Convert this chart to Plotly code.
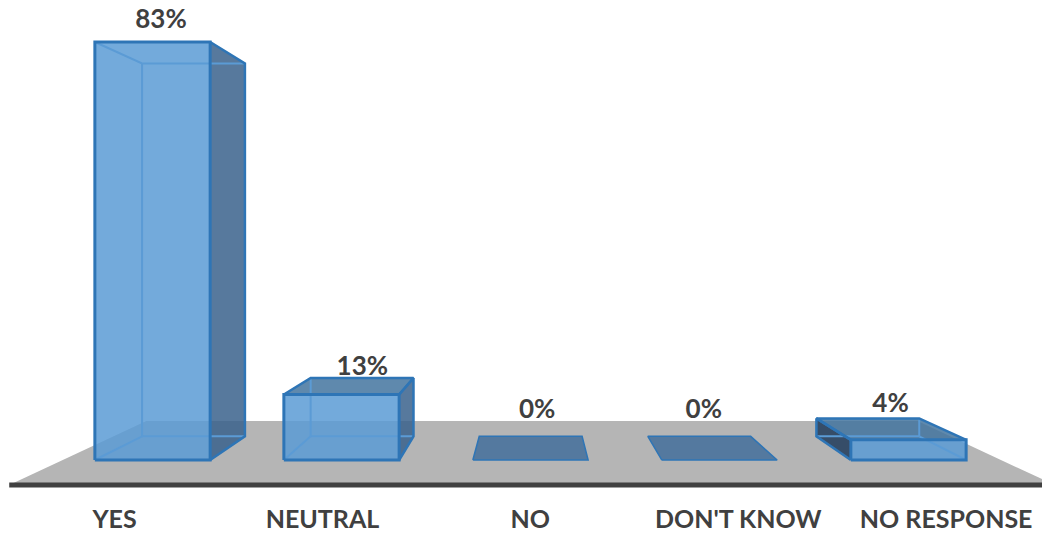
import plotly.graph_objects as go

# Survey responses
categories = ["YES", "NEUTRAL", "NO", "DON'T KNOW", "NO RESPONSE"]
percent = [83, 13, 0, 0, 4]

# Data-label nudges, in axis units, relative to the bar centre and value
label_dx = [0.045, 0.11, 0.035, -0.083, -0.095]
label_dy = [4.0, 5.2, 9.6, 9.6, 6.9]

# Perspective set-up, in axis units: vanishing point and depth scales
VX, VY = 2.008, 43.5
BACK = 0.892
FLOOR_FRONT, FLOOR_BACK = 1.114, 0.822
LABEL_SCALE = 1.1
HALF_WIDTH = 0.305
FLOOR_X = (-0.475, 4.49)

EDGE_DARK = "#2E75B6"
EDGE_LIGHT = "#5B9BD5"
FRONT_FILL = "rgba(91,155,213,0.85)"
SIDE_FILL = "rgba(57,97,140,0.85)"
TOP_FILL = "rgba(67,116,159,0.85)"
BASE_FILL = "rgba(67,110,155,0.85)"
INNER_FILL = "rgba(40,65,95,0.9)"
TEXT = "#404040"
FONT = "Lato"


def project(x, y, s):
    return VX + (x - VX) * s, VY + (y - VY) * s


fig = go.Figure()


def face(points, fill):
    fig.add_trace(go.Scatter(
        x=[p[0] for p in points] + [points[0][0]],
        y=[p[1] for p in points] + [points[0][1]],
        mode="lines", fill="toself", fillcolor=fill,
        line=dict(width=0), hoverinfo="skip",
    ))


def edge(points, color, width):
    fig.add_trace(go.Scatter(
        x=[p[0] for p in points], y=[p[1] for p in points],
        mode="lines", line=dict(color=color, width=width), hoverinfo="skip",
    ))


# Floor and front rule
face([project(FLOOR_X[0], 0, FLOOR_FRONT), project(FLOOR_X[1], 0, FLOOR_FRONT),
      project(FLOOR_X[1], 0, FLOOR_BACK), project(FLOOR_X[0], 0, FLOOR_BACK)], "#B5B5B5")
edge([project(FLOOR_X[0], 0, FLOOR_FRONT), project(FLOOR_X[1], 0, FLOOR_FRONT)], TEXT, 5)

# Bars: translucent boxes receding to the vanishing point
for i, value in enumerate(percent):
    x0, x1 = i - HALF_WIDTH, i + HALF_WIDTH
    fl, fr = (x0, 0), (x1, 0)
    tl, tr = (x0, value), (x1, value)
    bfl, bfr = project(x0, 0, BACK), project(x1, 0, BACK)
    btl, btr = project(x0, value, BACK), project(x1, value, BACK)

    if value == 0:
        face([fl, fr, bfr, bfl], BASE_FILL)
        edge([fl, fr, bfr, bfl, fl], EDGE_DARK, 1.5)
        continue

    top_visible = value < VY
    left_of_vp = x1 < VX

    if left_of_vp:
        face([tr, btr, bfr, fr], SIDE_FILL)
    else:
        face([tl, btl, bfl, fl], INNER_FILL)
    if top_visible:
        face([tl, tr, btr, btl], TOP_FILL)
    face([fl, fr, tr, tl], FRONT_FILL)

    # Hidden edges seen through the glass
    edge([bfl, bfr], EDGE_LIGHT, 2)
    if left_of_vp:
        edge([btl, bfl], EDGE_LIGHT, 2)
        edge([fl, bfl], EDGE_LIGHT, 2)
    else:
        edge([btr, bfr], EDGE_LIGHT, 2)
        edge([fr, bfr], EDGE_LIGHT, 2)
    if not top_visible:
        edge([tl, btl, btr], EDGE_LIGHT, 2)

    # Visible edges
    if left_of_vp:
        edge([tr, btr, bfr, fr], EDGE_DARK, 2.5)
    else:
        edge([tl, btl, bfl, fl], EDGE_DARK, 2.5)
    if top_visible:
        edge([tl, btl, btr, tr], EDGE_DARK, 2.5)
    edge([fl, fr, tr, tl, fl], EDGE_DARK, 3)

# Data labels
fig.add_trace(go.Scatter(
    x=[i + dx for i, dx in enumerate(label_dx)],
    y=[v + dy for v, dy in zip(percent, label_dy)],
    text=[f"{v}%" for v in percent],
    mode="text", textposition="middle center",
    textfont=dict(family=FONT, size=26, color=TEXT, weight=700),
    hoverinfo="skip",
))

# Category labels along the front of the floor
fig.add_trace(go.Scatter(
    x=[project(i, 0, LABEL_SCALE)[0] for i in range(len(categories))],
    y=[-12.3] * len(categories),
    text=categories,
    mode="text", textposition="middle center",
    textfont=dict(family=FONT, size=25, color=TEXT, weight=700),
    hoverinfo="skip",
))

fig.update_layout(
    width=1042, height=535,
    margin=dict(l=0, r=0, t=0, b=0),
    paper_bgcolor="white", plot_bgcolor="white",
    showlegend=False,
    xaxis=dict(visible=False, range=[-0.8069, 4.7064], fixedrange=True),
    yaxis=dict(visible=False, range=[-14.89, 91.34], fixedrange=True),
)

fig.write_html("out.html", config=dict(displayModeBar=False))
